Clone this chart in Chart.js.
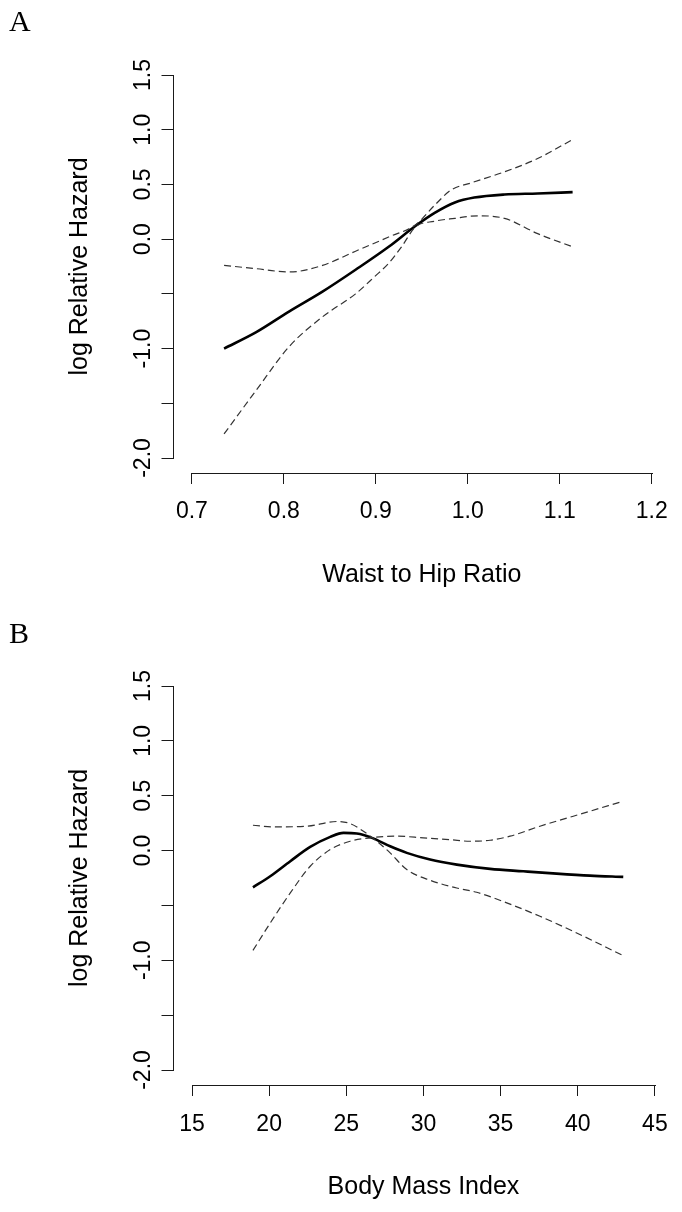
<!DOCTYPE html>
<html>
<head>
<meta charset="utf-8">
<script src="https://cdn.jsdelivr.net/npm/chart.js@4.4.1/dist/chart.umd.min.js"></script>
<style>
  html, body { margin: 0; padding: 0; background: #fff; }
  .panel { position: relative; width: 682px; height: 606px; }
  .panel canvas { position: absolute; left: 0; top: 0; }
  .tag { position: absolute; left: 9px; font-family: "Liberation Serif", "Times New Roman", serif; font-size: 30px; line-height: 30px; color: #000; }
</style>
</head>
<body>
<div class="panel">
  <canvas id="whrChart" width="682" height="606"></canvas>
  <div class="tag" style="top:6px">A</div>
</div>
<div class="panel">
  <canvas id="bmiChart" width="682" height="606"></canvas>
  <div class="tag" style="top:12px">B</div>
</div>
<script>
// shared y axis
const yTicks = [-2, -1.5, -1, -0.5, 0, 0.5, 1, 1.5];
const yLabelled = [-2, -1, 0, 0.5, 1, 1.5];
const yTitle = 'log Relative Hazard';

// A: waist to hip ratio
const whrTicks = [0.7, 0.8, 0.9, 1.0, 1.1, 1.2];
const whrFitX = [0.735, 0.770, 0.806, 0.842, 0.878, 0.914, 0.943, 0.964, 0.986, 1.007, 1.040, 1.076, 1.114];
const whrFitY = [-1.00, -0.85, -0.66, -0.48, -0.28, -0.07, 0.12, 0.24, 0.335, 0.38, 0.408, 0.417, 0.43];
const whrUpX = [0.735, 0.770, 0.806, 0.842, 0.878, 0.914, 0.943, 0.964, 0.982, 1.004, 1.040, 1.076, 1.114];
const whrUpY = [-0.24, -0.27, -0.30, -0.24, -0.11, 0.02, 0.13, 0.31, 0.45, 0.515, 0.615, 0.737, 0.91];
const whrLowX = [0.735, 0.770, 0.806, 0.842, 0.878, 0.899, 0.914, 0.928, 0.943, 0.964, 0.986, 1.011, 1.040, 1.076, 1.114];
const whrLowY = [-1.78, -1.38, -0.98, -0.71, -0.50, -0.34, -0.22, -0.07, 0.11, 0.164, 0.19, 0.213, 0.19, 0.05, -0.07];

// B: body mass index
const bmiTicks = [15, 20, 25, 30, 35, 40, 45];
const bmiFitX = [18.95, 20.07, 21.37, 22.66, 23.96, 24.82, 25.68, 26.66, 27.84, 28.92, 30.43, 32.16, 34.32, 36.47, 38.63, 40.79, 42.95];
const bmiFitY = [-0.335, -0.234, -0.097, 0.033, 0.125, 0.161, 0.155, 0.116, 0.039, -0.021, -0.082, -0.128, -0.167, -0.189, -0.210, -0.228, -0.240];
const bmiCi1X = [18.95, 20.29, 22.45, 24.39, 25.25, 26.11, 26.98, 27.84, 28.92, 30.43, 32.16, 33.45, 35.40, 37.55, 39.71, 42.95];
const bmiCi1Y = [0.231, 0.216, 0.222, 0.265, 0.246, 0.176, 0.085, -0.021, -0.173, -0.271, -0.341, -0.380, -0.477, -0.599, -0.736, -0.958];
const bmiCi2X = [18.95, 20.07, 21.37, 22.66, 23.96, 25.25, 26.55, 28.27, 29.99, 31.72, 33.02, 34.32, 35.61, 37.55, 39.71, 42.95];
const bmiCi2Y = [-0.910, -0.660, -0.386, -0.143, 0.009, 0.085, 0.116, 0.131, 0.116, 0.100, 0.085, 0.094, 0.131, 0.222, 0.313, 0.450];

Chart.defaults.font.family = '"Liberation Sans", Arial, sans-serif';
Chart.defaults.color = '#000';

const axisColor = '#1a1a1a';
const xAxisAt = -2.14; // R puts the x axis at the bottom of the plot region

const toPoints = (xs, ys) => xs.map((x, i) => ({ x: x, y: ys[i] }));

const fitLine = (xs, ys) => ({
    data: toPoints(xs, ys),
    borderColor: '#000',
    borderWidth: 2.6,
    pointRadius: 0,
    cubicInterpolationMode: 'monotone',
    fill: false
});

const ciLine = (xs, ys) => ({
    data: toPoints(xs, ys),
    borderColor: '#333',
    borderWidth: 1.2,
    borderDash: [7, 4],
    pointRadius: 0,
    cubicInterpolationMode: 'monotone',
    fill: false
});

// x axis line only runs from first to last tick, like R's axis()
const xAxisLine = {
    id: 'xAxisLine',
    afterDraw(chart) {
        const xs = chart.scales.x;
        const ys = chart.scales.y;
        const ctx = chart.ctx;
        const y = Math.round(ys.getPixelForValue(xAxisAt)) + 0.5;
        const x1 = Math.round(xs.getPixelForValue(xs.ticks[0].value));
        const x2 = Math.round(xs.getPixelForValue(xs.ticks[xs.ticks.length - 1].value)) + 1;
        ctx.save();
        ctx.strokeStyle = axisColor;
        ctx.lineWidth = 1;
        ctx.beginPath();
        ctx.moveTo(x1, y);
        ctx.lineTo(x2, y);
        ctx.stroke();
        ctx.restore();
    }
};

const makePanel = (canvasId, opts) => {
    return new Chart(document.getElementById(canvasId).getContext('2d'), {
        type: 'line',
        data: {
            datasets: opts.datasets
        },
        options: {
            responsive: false,
            animation: false,
            devicePixelRatio: 1,
            layout: {
                padding: { left: 0, top: opts.top, right: 8.5, bottom: 606 - opts.top - opts.plotHeight }
            },
            plugins: {
                legend: { display: false },
                tooltip: { enabled: false }
            },
            scales: {
                x: {
                    type: 'linear',
                    min: opts.xMin,
                    max: opts.xMax,
                    position: { y: xAxisAt },
                    afterBuildTicks: (scale) => {
                        scale.ticks = opts.xTicks.map(v => ({ value: v }));
                    },
                    afterFit: (scale) => {
                        scale.height = 120;
                    },
                    ticks: {
                        autoSkip: false,
                        maxRotation: 0,
                        padding: 14,
                        font: { size: 23 },
                        color: '#000',
                        callback: opts.xFormat
                    },
                    grid: {
                        drawOnChartArea: false,
                        drawTicks: true,
                        tickLength: 11,
                        color: axisColor,
                        lineWidth: 1
                    },
                    border: { display: false },
                    title: {
                        display: true,
                        text: opts.xTitle,
                        font: { size: 25 },
                        color: '#000',
                        padding: { top: 0, bottom: 3 }
                    }
                },
                y: {
                    type: 'linear',
                    position: 'left',
                    min: -2,
                    max: 1.5,
                    afterBuildTicks: (scale) => {
                        scale.ticks = yTicks.map(v => ({ value: v }));
                    },
                    afterFit: (scale) => {
                        scale.width = 173.5;
                    },
                    ticks: {
                        autoSkip: false,
                        minRotation: 90,
                        maxRotation: 90,
                        crossAlign: 'center',
                        padding: -2,
                        font: { size: 23 },
                        color: '#000',
                        callback: (value) => yLabelled.includes(value) ? value.toFixed(1) : ''
                    },
                    grid: {
                        drawOnChartArea: false,
                        drawTicks: true,
                        tickLength: 12,
                        color: axisColor,
                        lineWidth: 1
                    },
                    border: { display: true, color: axisColor, width: 1 },
                    title: {
                        display: true,
                        text: yTitle,
                        font: { size: 25 },
                        color: '#000',
                        padding: { top: 65, bottom: 0 }
                    }
                }
            }
        },
        plugins: [xAxisLine]
    });
};

const whrChart = makePanel('whrChart', {
    top: 75,
    plotHeight: 383,
    xMin: 0.68,
    xMax: 1.22,
    xTicks: whrTicks,
    xFormat: (value) => value.toFixed(1),
    xTitle: 'Waist to Hip Ratio',
    datasets: [
        ciLine(whrUpX, whrUpY),
        ciLine(whrLowX, whrLowY),
        fitLine(whrFitX, whrFitY)
    ]
});

const bmiChart = makePanel('bmiChart', {
    top: 80,
    plotHeight: 384,
    xMin: 13.8,
    xMax: 46.2,
    xTicks: bmiTicks,
    xFormat: (value) => String(value),
    xTitle: 'Body Mass Index',
    datasets: [
        ciLine(bmiCi1X, bmiCi1Y),
        ciLine(bmiCi2X, bmiCi2Y),
        fitLine(bmiFitX, bmiFitY)
    ]
});
</script>
</body>
</html>
